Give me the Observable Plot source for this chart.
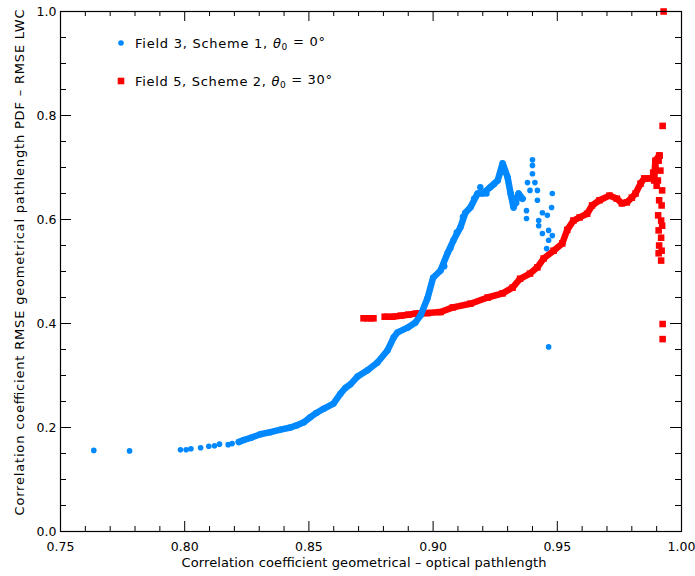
<!DOCTYPE html>
<html>
<head>
<meta charset="utf-8">
<script src="https://cdn.jsdelivr.net/npm/d3@7"></script>
<script src="https://cdn.jsdelivr.net/npm/@observablehq/plot@0.6"></script>
<style>
  html, body { margin: 0; padding: 0; background: #fff; }
  #chart svg { display: block; }
</style>
</head>
<body>
<div id="chart"></div>
<script>
// ---- Tick values ----
const xMajor = [0.75, 0.80, 0.85, 0.90, 0.95, 1.00];
const xMinor = [0.76, 0.77, 0.78, 0.79, 0.81, 0.82, 0.83, 0.84, 0.86, 0.87, 0.88, 0.89,
                0.91, 0.92, 0.93, 0.94, 0.96, 0.97, 0.98, 0.99];
const yMajor = [0.0, 0.2, 0.4, 0.6, 0.8, 1.0];
const yMinor = [0.05, 0.10, 0.15, 0.25, 0.30, 0.35, 0.45, 0.50, 0.55, 0.65, 0.70, 0.75, 0.85, 0.90, 0.95];

// ---- Series 1: Field 3, Scheme 1 (blue dots) ----
const blueSparseX = [0.7634, 0.7778, 0.7983, 0.8006, 0.8025, 0.8064, 0.8097, 0.8120, 0.8140, 0.8175, 0.8191];
const blueSparseY = [0.156, 0.155, 0.157, 0.157, 0.159, 0.161, 0.164, 0.165, 0.168, 0.167, 0.169];

const blueCurveX = [0.8218, 0.8238, 0.8265, 0.8305, 0.8345, 0.8386, 0.8426, 0.8450, 0.8480, 0.8506,
                    0.8530, 0.8559, 0.8599, 0.8627, 0.8647, 0.8667, 0.8696, 0.8736, 0.8776, 0.8816,
                    0.8841, 0.8857, 0.8897, 0.8929, 0.8950, 0.8977, 0.9000, 0.9030, 0.9058, 0.9082,
                    0.9110, 0.9130, 0.9150, 0.9179, 0.9200, 0.9230, 0.9260, 0.9280, 0.9300, 0.9312,
                    0.9324, 0.9344, 0.9360];
const blueCurveY = [0.172, 0.176, 0.180, 0.187, 0.191, 0.196, 0.200, 0.204, 0.210, 0.220,
                    0.228, 0.236, 0.246, 0.265, 0.276, 0.283, 0.298, 0.310, 0.325, 0.348,
                    0.373, 0.383, 0.392, 0.402, 0.416, 0.448, 0.488, 0.502, 0.535, 0.560,
                    0.585, 0.613, 0.623, 0.650, 0.650, 0.662, 0.675, 0.708, 0.681, 0.650,
                    0.623, 0.650, 0.640];

// jitter-like spread of the band between 0.90 and 0.93
const blueBandX = [0.9045, 0.9070, 0.9095, 0.9120, 0.9165, 0.9190, 0.9215, 0.9245, 0.9270, 0.9335];
const blueBandY = [0.510, 0.545, 0.575, 0.605, 0.640, 0.662, 0.650, 0.668, 0.690, 0.632];

const blueScatterX = [0.9400, 0.9400, 0.9400, 0.9410, 0.9380, 0.9390, 0.9420, 0.9420, 0.9376, 0.9376,
                      0.9440, 0.9460, 0.9425, 0.9425, 0.9480, 0.9477, 0.9440, 0.9465, 0.9480, 0.9465,
                      0.9457, 0.9465];
const blueScatterY = [0.715, 0.704, 0.688, 0.671, 0.671, 0.656, 0.656, 0.637, 0.617, 0.602,
                      0.613, 0.608, 0.598, 0.588, 0.650, 0.623, 0.573, 0.579, 0.569, 0.560,
                      0.544, 0.355];

// ---- Series 2: Field 5, Scheme 2 (red squares) ----
const redStartX = [0.8720, 0.8735, 0.8750, 0.8760, 0.8805, 0.8815];
const redStartY = [0.410, 0.410, 0.410, 0.410, 0.413, 0.413];

const redCurveX = [0.8836, 0.8870, 0.8900, 0.8930, 0.8977, 0.9030, 0.9080, 0.9150, 0.9220, 0.9280,
                   0.9320, 0.9350, 0.9390, 0.9420, 0.9445, 0.9485, 0.9520, 0.9540, 0.9565, 0.9590,
                   0.9620, 0.9640, 0.9670, 0.9710, 0.9740, 0.9760, 0.9780, 0.9800, 0.9815, 0.9835,
                   0.9850, 0.9870, 0.9890, 0.9895, 0.9910];
const redCurveY = [0.413, 0.415, 0.417, 0.419, 0.420, 0.422, 0.431, 0.438, 0.450, 0.458,
                   0.469, 0.486, 0.496, 0.508, 0.525, 0.540, 0.554, 0.580, 0.598, 0.604,
                   0.611, 0.627, 0.637, 0.646, 0.640, 0.631, 0.633, 0.642, 0.650, 0.669,
                   0.679, 0.679, 0.681, 0.713, 0.723];

const redColumnX = [0.9912, 0.9908, 0.9915, 0.9905, 0.9922, 0.9910, 0.9920, 0.9906, 0.9918, 0.9922,
                    0.9908, 0.9918, 0.9910, 0.9920, 0.9908, 0.9918, 0.9886, 0.9895, 0.9900, 0.9890,
                    0.9924, 0.9928, 0.9924, 0.9924];
const redColumnY = [0.723, 0.713, 0.694, 0.675, 0.656, 0.637, 0.627, 0.608, 0.598, 0.588,
                    0.579, 0.565, 0.550, 0.540, 0.535, 0.521, 0.690, 0.700, 0.665, 0.675,
                    0.780, 1.000, 0.399, 0.370];

// ---- Text ----
const xTitle = "Correlation coefficient geometrical \u2013 optical pathlength";
const yTitle = "Correlation coefficient RMSE geometrical pathlength PDF \u2013 RMSE LWC";
const legendLabels = [
  {pre: "Field 3, Scheme 1, ", post: " = 0°", color: "blue"},
  {pre: "Field 5, Scheme 2, ", post: " = 30°", color: "red"}
];

const BLUE = "rgb(0,136,255)";
const RED = "#ff0000";

const zip = (xs, ys) => xs.map((x, i) => ({x, y: ys[i]}));
const blueSparse = zip(blueSparseX, blueSparseY);
const blueCurve = zip(blueCurveX, blueCurveY);
const blueBand = zip(blueBandX, blueBandY);
const blueScatter = zip(blueScatterX, blueScatterY);
const redStart = zip(redStartX, redStartY);
const redCurve = zip(redCurveX, redCurveY);
const redColumn = zip(redColumnX, redColumnY);

const W = 695, H = 576;
const mL = 60, mR = 14, mT = 11, mB = 45;
const fW = W - mL - mR, fH = H - mT - mB;

const plot = Plot.plot({
  width: W,
  height: H,
  marginLeft: mL,
  marginRight: mR,
  marginTop: mT,
  marginBottom: mB,
  style: {fontFamily: "DejaVu Sans", fontSize: "12.5px", color: "black", background: "white"},
  x: {domain: [0.75, 1.0], ticks: xMajor, tickFormat: d3.format(".2f"), tickSize: 0, tickPadding: 11, label: null},
  y: {domain: [0, 1], ticks: yMajor, tickFormat: d3.format(".1f"), tickSize: 0, tickPadding: 4, label: null},
  marks: [
    // red series (drawn first, blue overlaps at crossing)
    Plot.line(redCurve, {x: "x", y: "y", stroke: RED, strokeWidth: 6.5}),
    Plot.dot(redStart, {x: "x", y: "y", symbol: "square", r: 3.7, fill: RED}),
    Plot.dot(redCurve, {x: "x", y: "y", symbol: "square", r: 3.7, fill: RED}),
    Plot.dot(redColumn, {x: "x", y: "y", symbol: "square", r: 3.7, fill: RED}),
    // blue series
    Plot.line(blueCurve, {x: "x", y: "y", stroke: BLUE, strokeWidth: 6.5}),
    Plot.dot(blueSparse, {x: "x", y: "y", r: 2.8, fill: BLUE}),
    Plot.dot(blueCurve, {x: "x", y: "y", r: 3.2, fill: BLUE}),
    Plot.dot(blueBand, {x: "x", y: "y", r: 3.2, fill: BLUE}),
    Plot.dot(blueScatter, {x: "x", y: "y", r: 2.8, fill: BLUE}),
    // inward ticks on all four sides
    Plot.tickX(xMajor, {x: d => d, insetTop: fH - 10, stroke: "black"}),
    Plot.tickX(xMajor, {x: d => d, insetBottom: fH - 10, stroke: "black"}),
    Plot.tickX(xMinor, {x: d => d, insetTop: fH - 5, stroke: "black"}),
    Plot.tickX(xMinor, {x: d => d, insetBottom: fH - 5, stroke: "black"}),
    Plot.tickY(yMajor, {y: d => d, insetRight: fW - 11, stroke: "black"}),
    Plot.tickY(yMajor, {y: d => d, insetLeft: fW - 11, stroke: "black"}),
    Plot.tickY(yMinor, {y: d => d, insetRight: fW - 6, stroke: "black"}),
    Plot.tickY(yMinor, {y: d => d, insetLeft: fW - 6, stroke: "black"}),
    Plot.frame({stroke: "black", strokeWidth: 1.2}),
    // axis titles
    Plot.text([xTitle], {text: d => d, frameAnchor: "bottom", textAnchor: "middle", dx: -7, dy: 35, fontSize: 13, fill: "black"}),
    Plot.text([yTitle], {text: d => d, frameAnchor: "left", textAnchor: "middle", dx: -41, dy: -9, rotate: -90, fontSize: 13, fill: "black"})
  ]
});

document.getElementById("chart").appendChild(plot);

const svg = d3.select(plot);
// stretch axis titles to the widths seen in the reference
svg.selectAll("text").filter(function () { return this.textContent === xTitle; })
  .attr("textLength", 365).attr("lengthAdjust", "spacing");
svg.selectAll("text").filter(function () { return this.textContent === yTitle; })
  .attr("textLength", 506).attr("lengthAdjust", "spacing");

// ---- Legend (inside plot, top-left) ----
const leg = svg.append("g").attr("font-family", "DejaVu Sans").attr("font-size", 13)
  .attr("fill", "black").attr("text-anchor", "start");
const legendPos = [{mx: 121, my: 43}, {mx: 121, my: 81}];
legendLabels.forEach((item, i) => {
  const p = legendPos[i];
  if (item.color === "blue") {
    leg.append("circle").attr("cx", p.mx).attr("cy", p.my).attr("r", 2.8).attr("fill", BLUE);
  } else {
    leg.append("rect").attr("x", p.mx - 3.3).attr("y", p.my - 3.3).attr("width", 6.6).attr("height", 6.6).attr("fill", RED);
  }
  const t = leg.append("text").attr("x", p.mx + 14).attr("y", p.my).attr("dy", "0.35em")
    .attr("textLength", item.color === "blue" ? 190 : 197).attr("lengthAdjust", "spacing");
  t.append("tspan").text(item.pre);
  t.append("tspan").attr("font-style", "italic").text("\u03b8");
  t.append("tspan").attr("font-size", 9).attr("dy", "0.3em").text("0");
  t.append("tspan").attr("dy", "-0.3em").text(item.post);
});
</script>
</body>
</html>
